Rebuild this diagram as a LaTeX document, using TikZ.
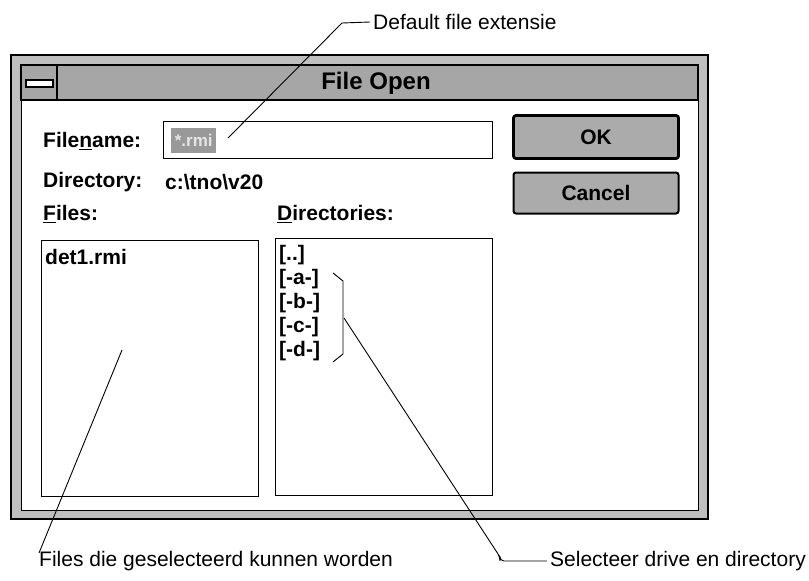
\documentclass[tikz,border=0pt]{standalone}
\usepackage{fontspec}
\setmainfont{Liberation Sans}
\usepackage{tikz}

\newcommand{\keyletter}[1]{\underline{#1}}

\begin{document}
\begin{tikzpicture}[x=1pt, y=-1pt,
	dlg/.style={font=\fontsize{21}{24}\selectfont\bfseries, inner sep=0pt, anchor=west},
	note/.style={font=\fontsize{21}{24}\selectfont, inner sep=0pt},
	listbox/.style={draw, line width=1.2pt, anchor=north west, inner sep=0pt},
	btn/.style={draw, line width=2pt, rounded corners=2.5pt, fill=black!33, inner sep=0pt, font=\fontsize{21}{24}\selectfont\bfseries},
	leader/.style={line width=0.9pt}]
	\useasboundingbox (0,0) rectangle (809,581);
	\draw[line width=1.8pt, fill=black!25] (11,55) rectangle (708,519);
	\draw[line width=0.8pt, fill=white] (21,65) rectangle (698,510);
	\draw[line width=1.2pt, fill=black!35] (21,65) rectangle (698,100);
	\draw[line width=1.4pt] (57,65) -- (57,100);
	\draw[line width=1.4pt, fill=white] (26,80) rectangle (53,87);
	\node (title) at (376,83) [font=\fontsize{24}{28}\selectfont\bfseries] {File Open};
		\node (fnlabel) at (43,141) [dlg] {File\keyletter{n}ame:};
		\node (fnbox) at (163,121) [listbox, minimum width=329pt, minimum height=37pt] {};
		\node (fnsel) at (171,128) [anchor=north west, fill=black!40, text=black!10, inner sep=1pt, minimum width=45pt, minimum height=25pt, font=\fontsize{17}{20}\selectfont\bfseries] {*.rmi};
		\node (dirlabel) at (43,182) [dlg] {Directory:};
		\node (dirpath) at (165,182) [dlg] {c:\textbackslash tno\textbackslash v20};
		\node (fileslabel) at (43,214) [dlg] {\keyletter{F}iles:};
		\node (dirslabel) at (277,214) [dlg] {\keyletter{D}irectories:};
			\node (filesbox) at (41,240) [listbox, minimum width=217pt, minimum height=256pt] {};
			\node (dirsbox) at (275,238) [listbox, minimum width=217pt, minimum height=257pt] {};
			\node (det) at (45,257) [dlg] {det1.rmi};
			\foreach \d [count=\i] in {{[..]},{[-a-]},{[-b-]},{[-c-]},{[-d-]}}
				\node (dir\i) at (279,231+24*\i) [dlg] {\d};
	\node (ok) at (596,137) [btn, line width=2.8pt, minimum width=165pt, minimum height=43pt] {OK};
	\node (cancel) at (596,193) [btn, minimum width=165pt, minimum height=41pt] {Cancel};
	\node (extnote) at (373,22) [note, anchor=west] {Default file extensie};
	\node (filesnote) at (39,561) [note, anchor=west] {Files die geselecteerd kunnen worden};
	\node (dirnote) at (806,561) [note, anchor=east] {Selecteer drive en directory};
	\coordinate (extend) at (228,138);
	\coordinate (extbend) at (342,23);
	\coordinate (filesend) at (122,350);
	\coordinate (bracetop) at (333,273);
	\coordinate (bracemid) at (344,318);
	\coordinate (bracebot) at (333,362);
	\coordinate (dirbend) at (500,557);
	\draw[leader] (extend) -- (extbend) -- ([xshift=-3pt]extnote.west);
	\draw[leader] (filesend) -- ([yshift=-2pt]filesnote.north west);
	\draw[leader] (bracetop) -- (343,281) -- (343,354) -- (bracebot);
	\draw[leader, rounded corners=4pt] (bracemid) -- (dirbend) |- ([xshift=-3pt]dirnote.west);
\end{tikzpicture}
\end{document}
